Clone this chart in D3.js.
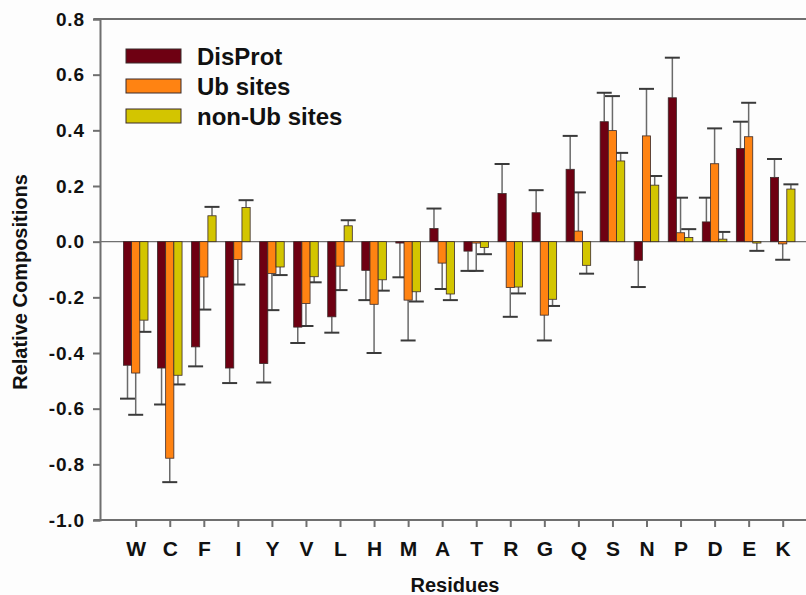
<!DOCTYPE html>
<html>
<head>
<meta charset="utf-8">
<script src="https://cdn.jsdelivr.net/npm/d3@7/dist/d3.min.js"></script>
<style>
  html, body { margin: 0; padding: 0; background: #fdfdfd; }
  svg { display: block; }
  text { font-family: "Liberation Sans", Arial, Helvetica, sans-serif; font-weight: bold; fill: #111; }
</style>
</head>
<body>
<svg id="chart" width="806" height="595"></svg>
<script>
const residues = ["W","C","F","I","Y","V","L","H","M","A","T","R","G","Q","S","N","P","D","E","K"];
const seriesNames = ["DisProt","Ub sites","non-Ub sites"];
const seriesColors = ["#6e0012","#ff8312","#d3c500"];

const disprot    = [-0.444,-0.454,-0.378,-0.454,-0.438,-0.307,-0.270,-0.103,-0.005, 0.047,-0.034, 0.173, 0.104, 0.260, 0.431,-0.067, 0.517, 0.071, 0.335, 0.231];
const disprotErr = [ 0.120, 0.131, 0.070, 0.054, 0.068, 0.057, 0.057, 0.107, 0.123, 0.072, 0.071, 0.106, 0.081, 0.120, 0.104, 0.096, 0.144, 0.087, 0.096, 0.066];
const ubSites    = [-0.472,-0.778,-0.127,-0.064,-0.114,-0.222,-0.088,-0.225,-0.210,-0.077,-0.005,-0.165,-0.264, 0.038, 0.399, 0.380, 0.032, 0.280, 0.377,-0.008];
const ubErr      = [ 0.150, 0.086, 0.117, 0.090, 0.132, 0.081, 0.086, 0.175, 0.145, 0.093, 0.100, 0.105, 0.091, 0.139, 0.124, 0.169, 0.126, 0.127, 0.122, 0.057];
const nonUb      = [-0.282,-0.480, 0.093, 0.123,-0.091,-0.126, 0.057,-0.137,-0.180,-0.188,-0.021,-0.163,-0.207,-0.085, 0.290, 0.203, 0.015, 0.009,-0.005, 0.189];
const nonUbErr   = [ 0.042, 0.033, 0.032, 0.026, 0.029, 0.020, 0.020, 0.039, 0.035, 0.022, 0.024, 0.023, 0.024, 0.030, 0.029, 0.033, 0.030, 0.026, 0.028, 0.017];
const yTicks = [0.8,0.6,0.4,0.2,0.0,-0.2,-0.4,-0.6,-0.8,-1.0];

const values = [disprot, ubSites, nonUb];
const errors = [disprotErr, ubErr, nonUbErr];

const svg = d3.select("#chart");
const M = {left: 100, top: 19, bottom: 520, right: 830};

const y = d3.scaleLinear().domain([-1.0, 0.8]).range([M.bottom, M.top]);
const x = d3.scalePoint().domain(residues).range([135.7, 782.7]);
const xs = d3.scaleBand().domain(seriesNames).range([-12.3, 12.3]);

// frame: top line
svg.append("line").attr("x1", M.left - 6).attr("x2", M.right).attr("y1", M.top).attr("y2", M.top)
  .attr("stroke", "#6f6f6f").attr("stroke-width", 2);

// zero line
svg.append("line").attr("x1", M.left).attr("x2", M.right).attr("y1", y(0)).attr("y2", y(0))
  .attr("stroke", "#707070").attr("stroke-width", 1.3);

const rows = [];
residues.forEach((r, i) => {
  seriesNames.forEach((s, k) => {
    rows.push({r, s, k, v: values[k][i], e: errors[k][i]});
  });
});

const gErr = svg.append("g");
const gBars = svg.append("g");
rows.forEach(d => {
  const cx = x(d.r) + xs(d.s) + xs.bandwidth() / 2;
  const end = d.v >= 0 ? d.v + d.e : d.v - d.e;
  gErr.append("line").attr("x1", cx).attr("x2", cx).attr("y1", y(d.v)).attr("y2", y(end))
    .attr("stroke", "#6a6a6a").attr("stroke-width", 1.5);
  gErr.append("line").attr("x1", cx - 7.5).attr("x2", cx + 7.5).attr("y1", y(end)).attr("y2", y(end))
    .attr("stroke", "#3a3a3a").attr("stroke-width", 2);
});

gBars.selectAll("rect").data(rows).join("rect")
  .attr("x", d => x(d.r) + xs(d.s))
  .attr("width", xs.bandwidth())
  .attr("y", d => y(Math.max(0, d.v)))
  .attr("height", d => Math.abs(y(d.v) - y(0)))
  .attr("fill", d => seriesColors[d.k])
  .attr("stroke", "#3a2a2a").attr("stroke-width", 0.8);

// y axis
const yAxis = svg.append("g").attr("transform", `translate(${M.left},0)`)
  .call(d3.axisLeft(y).tickValues(yTicks).tickFormat(d => d3.format(".1f")(d).replace("\u2212", "-")).tickSizeOuter(0).tickSize(7).tickPadding(8));
yAxis.select(".domain").attr("stroke", "#6f6f6f").attr("stroke-width", 2);
yAxis.selectAll(".tick line").attr("stroke", "#6f6f6f").attr("stroke-width", 2);
yAxis.selectAll(".tick text").attr("font-size", 19).attr("letter-spacing", 0.9)
  .attr("fill", "#161616").style("font-family", "'Liberation Sans', Arial, sans-serif").style("font-weight", "bold");

// x axis
svg.append("line").attr("x1", M.left - 6).attr("x2", M.right).attr("y1", M.bottom).attr("y2", M.bottom)
  .attr("stroke", "#6f6f6f").attr("stroke-width", 2);
const xAxis = svg.append("g").attr("transform", `translate(0,${M.bottom})`)
  .call(d3.axisBottom(x).tickSize(7).tickPadding(14));
xAxis.select(".domain").remove();
xAxis.selectAll(".tick line").attr("stroke", "#6f6f6f").attr("stroke-width", 2);
xAxis.selectAll(".tick text").attr("font-size", 21).attr("fill", "#161616")
  .style("font-family", "'Liberation Sans', Arial, sans-serif").style("font-weight", "bold");

// axis titles
svg.append("text").attr("x", 455).attr("y", 592).attr("text-anchor", "middle")
  .attr("font-size", 20).text("Residues");
svg.append("text").attr("transform", "translate(27,282) rotate(-90)").attr("text-anchor", "middle")
  .attr("font-size", 20).text("Relative Compositions");

// legend
const legend = svg.append("g");
seriesNames.forEach((s, k) => {
  const yy = 49 + k * 30;
  legend.append("rect").attr("x", 126).attr("y", yy).attr("width", 55).attr("height", 14)
    .attr("fill", seriesColors[k]).attr("stroke", "#3a2a2a").attr("stroke-width", 1);
  legend.append("text").attr("x", 197).attr("y", yy + 15.5).attr("font-size", 24).text(s);
});
</script>
</body>
</html>
